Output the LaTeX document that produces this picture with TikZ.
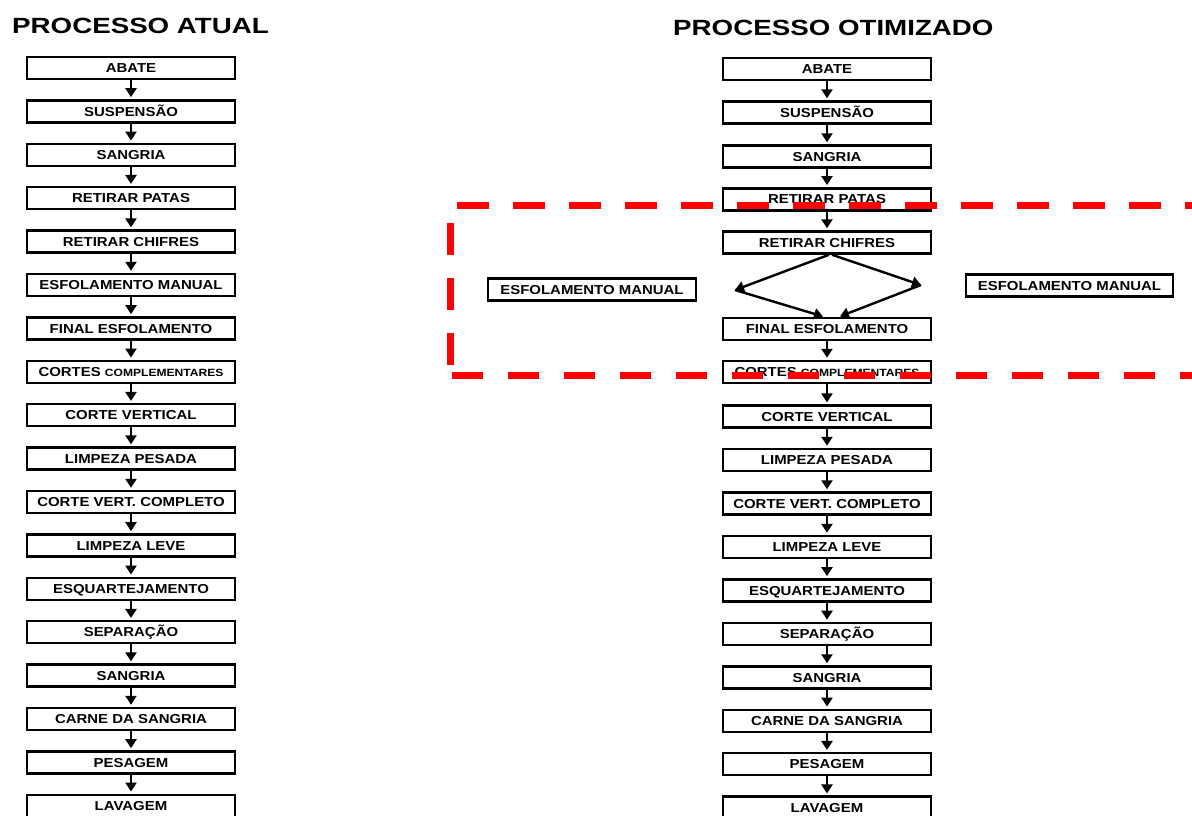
\documentclass[tikz,border=0pt]{standalone}
\usepackage{fontspec}
\usetikzlibrary{arrows.meta}
\newfontfamily\boxfont{Liberation Sans}[FakeStretch=1.15]
\newfontfamily\titlefont{Liberation Sans}[FakeStretch=1.26]
\tikzset{
  box/.style={draw, line width=2.5pt, minimum width=208pt, minimum height=22pt, inner sep=0pt,
    text height=9.3pt, text depth=0pt, font=\boxfont\bfseries\fontsize{13}{13}\selectfont},
  arr/.style={line width=2.4pt, -{Triangle[width=11pt,length=9pt]}, shorten >=2pt},
  redline/.style={draw=red, line width=7pt},
  title/.style={font=\titlefont\bfseries\fontsize{22}{22}\selectfont, anchor=base west, inner sep=0pt}
}
\newcommand{\smallpart}[1]{{\fontsize{10.5}{10.5}\selectfont #1}}
\begin{document}
\begin{tikzpicture}[x=1pt,y=-1pt]
\useasboundingbox (0,0) rectangle (1192,815);
\clip (0,0) rectangle (1192,815);

\node[title] (t1) at (12,33.5) {PROCESSO ATUAL};
\node[title] (t2) at (673,35.5) {PROCESSO OTIMIZADO};

% left column
\node[box] (l1)  at (131,68.0)  {ABATE};
\node[box] (l2)  at (131,111.4) {SUSPENSÃO};
\node[box] (l3)  at (131,154.8) {SANGRIA};
\node[box] (l4)  at (131,198.2) {RETIRAR PATAS};
\node[box] (l5)  at (131,241.6) {RETIRAR CHIFRES};
\node[box] (l6)  at (131,285.0) {ESFOLAMENTO MANUAL};
\node[box] (l7)  at (131,328.4) {FINAL ESFOLAMENTO};
\node[box] (l8)  at (131,371.8) {CORTES \smallpart{COMPLEMENTARES}};
\node[box] (l9)  at (131,415.2) {CORTE VERTICAL};
\node[box] (l10) at (131,458.6) {LIMPEZA PESADA};
\node[box] (l11) at (131,502.0) {CORTE VERT. COMPLETO};
\node[box] (l12) at (131,545.4) {LIMPEZA LEVE};
\node[box] (l13) at (131,588.8) {ESQUARTEJAMENTO};
\node[box] (l14) at (131,632.2) {SEPARAÇÃO};
\node[box] (l15) at (131,675.6) {SANGRIA};
\node[box] (l16) at (131,719.0) {CARNE DA SANGRIA};
\node[box] (l17) at (131,762.4) {PESAGEM};
\node[box] (l18) at (131,805.8) {LAVAGEM};
\foreach \a/\b in {l1/l2,l2/l3,l3/l4,l4/l5,l5/l6,l6/l7,l7/l8,l8/l9,l9/l10,l10/l11,l11/l12,l12/l13,l13/l14,l14/l15,l15/l16,l16/l17,l17/l18}
  \draw[arr] (\a) -- (\b);

% right column
\node[box] (r1)  at (827,69.0)  {ABATE};
\node[box] (r2)  at (827,112.5) {SUSPENSÃO};
\node[box] (r3)  at (827,156.5) {SANGRIA};
\node[box] (r4)  at (827,199.3) {RETIRAR PATAS};
\node[box] (r5)  at (827,242.5) {RETIRAR CHIFRES};
\node[box] (r7)  at (827,329.0) {FINAL ESFOLAMENTO};
\node[box] (r8)  at (827,372.0) {CORTES \smallpart{COMPLEMENTARES}};
\node[box] (r9)  at (827,416.6) {CORTE VERTICAL};
\node[box] (r10) at (827,460.0) {LIMPEZA PESADA};
\node[box] (r11) at (827,503.5) {CORTE VERT. COMPLETO};
\node[box] (r12) at (827,547.0) {LIMPEZA LEVE};
\node[box] (r13) at (827,590.4) {ESQUARTEJAMENTO};
\node[box] (r14) at (827,633.9) {SEPARAÇÃO};
\node[box] (r15) at (827,677.5) {SANGRIA};
\node[box] (r16) at (827,720.8) {CARNE DA SANGRIA};
\node[box] (r17) at (827,764.2) {PESAGEM};
\node[box] (r18) at (827,807.7) {LAVAGEM};
\foreach \a/\b in {r1/r2,r2/r3,r3/r4,r4/r5,r7/r8,r8/r9,r9/r10,r10/r11,r11/r12,r12/r13,r13/r14,r14/r15,r15/r16,r16/r17,r17/r18}
  \draw[arr] (\a) -- (\b);

% side boxes
\node[box] (sl) at (592,289.5) {ESFOLAMENTO MANUAL};
\node[box, minimum width=207pt] (sr) at (1069.5,285.5) {ESFOLAMENTO MANUAL};

% branching arrows
\coordinate (vl) at (735,290);
\coordinate (vr) at (921,285);
\draw[arr, shorten >=0pt] ([xshift=2pt]r5.south) -- (vl);
\draw[arr, shorten >=0pt] ([xshift=5pt]r5.south) -- (vr);
\draw[arr, shorten >=1pt] (vl) -- ([xshift=-3pt]r7.north);
\draw[arr, shorten >=1pt] (vr) -- ([xshift=12pt]r7.north);

% red dashed frame
\draw[redline, dash pattern=on 32pt off 24pt] (457,205) -- (1200,205);
\draw[redline, dash pattern=on 32pt off 23pt] (450,223) -- (450,372);
\draw[redline, dash pattern=on 31pt off 25pt] (452,375) -- (1200,375);
\end{tikzpicture}
\end{document}
